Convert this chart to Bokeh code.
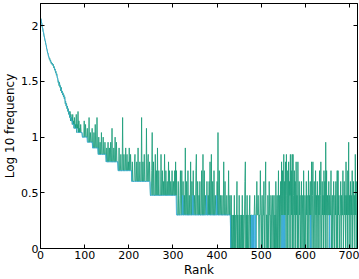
import numpy as np
from bokeh.plotting import figure
from bokeh.models import Range1d, LinearAxis, FixedTicker
from bokeh.embed import file_html
from bokeh.resources import INLINE

# ---- data: counts per rank (plotted as log10) ----
x_ticks = [0, 100, 200, 300, 400, 500, 600, 700]
y_ticks = [0, 0.5, 1, 1.5, 2]
y_tick_labels = {0: "0", 0.5: "0.5", 1: "1", 1.5: "1.5", 2: "2"}

# sorted (reference) counts, shown in blue
blue_counts = [
    116,110,104,98,94,90,86,82,78,75,72,69,66,63,60,58,56,54,52,51,
    50,49,48,47,46,46,45,45,44,43,42,41,40,39,38,37,36,35,33,32,
    31,30,30,29,28,27,27,26,25,25,24,24,23,23,22,21,20,20,19,19,
    18,18,17,17,16,16,15,15,15,14,14,14,13,13,13,13,12,12,12,12,
    12,12,11,11,11,11,11,11,11,11,11,11,11,11,10,10,10,10,10,10,
    10,10,10,10,10,9,9,9,9,9,9,9,9,9,9,9,9,8,8,8,
    8,8,8,8,8,8,8,8,8,8,7,7,7,7,7,7,7,7,7,7,
    7,7,7,7,7,7,7,7,6,6,6,6,6,6,6,6,6,6,6,6,
    6,6,6,6,6,6,6,6,6,6,6,6,6,6,6,5,5,5,5,5,
    5,5,5,5,5,5,5,5,5,5,5,5,5,5,5,5,5,5,5,5,
    5,5,5,5,5,5,4,4,4,4,4,4,4,4,4,4,4,4,4,4,
    4,4,4,4,4,4,4,4,4,4,4,4,4,4,4,4,4,4,4,4,
    4,4,4,4,4,4,4,4,3,3,3,3,3,3,3,3,3,3,3,3,
    3,3,3,3,3,3,3,3,3,3,3,3,3,3,3,3,3,3,3,3,
    3,3,3,3,3,3,3,3,3,3,3,3,3,3,3,3,3,3,3,3,
    3,3,3,3,3,3,3,2,2,2,2,2,2,2,2,2,2,2,2,2,
    2,3,2,2,2,2,2,2,2,2,2,2,2,2,2,2,2,2,2,2,
    2,2,2,2,3,2,2,2,2,2,2,2,2,2,2,2,2,2,2,2,
    2,2,2,2,2,2,2,2,2,2,2,2,2,2,2,3,2,2,2,2,
    2,2,2,2,2,2,2,2,2,2,2,2,2,2,2,2,2,2,3,2,
    2,2,2,2,2,2,2,2,2,2,2,2,2,2,2,2,2,2,2,2,
    2,2,2,2,2,2,2,2,2,2,1,1,1,1,1,1,1,1,1,1,
    1,1,1,1,1,1,1,1,1,1,1,1,1,1,1,1,1,1,1,1,
    1,1,1,1,1,1,1,1,1,1,1,1,1,1,1,1,1,2,1,1,
    2,1,1,2,1,1,2,1,1,1,1,1,1,1,1,1,1,1,1,1,
    1,1,1,1,1,1,1,1,1,1,1,1,1,1,1,1,1,1,1,1,
    1,1,1,1,1,1,1,1,1,1,1,1,1,1,1,1,1,1,1,1,
    1,1,1,1,1,1,2,1,1,2,1,1,2,1,1,1,1,1,1,1,
    1,1,1,1,1,1,1,1,1,1,1,1,1,1,1,1,1,1,1,1,
    1,1,1,1,1,1,1,1,1,1,1,1,1,1,1,1,1,1,1,1,
    1,1,1,1,1,1,1,1,1,1,1,2,1,1,1,1,1,1,1,1,
    1,1,1,1,1,1,1,1,1,1,1,1,1,1,1,1,1,1,1,1,
    1,1,1,1,1,1,1,1,1,1,1,1,1,1,2,1,1,1,1,1,
    1,1,1,1,1,1,1,1,1,1,1,1,1,1,1,1,1,1,1,1,
    1,1,1,1,1,1,1,1,1,1,1,1,1,1,1,1,1,1,1,1,
    1,1,1,1,1,1,1,1,1,1,1,1,1,1,1,1,1,1,
]

# observed counts, shown in green
green_counts = [
    116,108,105,97,95,89,87,81,79,74,
    73,68,67,62,61,57,57,53,53,50,
    51,48,49,46,47,45,46,44,45,42,
    43,40,41,38,39,36,37,34,34,31,
    32,29,31,28,29,26,28,25,26,24,
    25,23,24,22,23,20,21,19,20,18,
    19,17,18,16,17,15,17,14,16,14,
    15,13,16,13,14,12,15,12,13,12,
    16,11,13,12,17,11,14,11,12,11,
    13,11,11,11,10,10,10,10,14,10,
    10,13,10,10,10,12,9,9,9,15,
    9,9,11,9,9,9,12,8,8,8,
    11,8,8,13,8,8,8,15,8,8,
    7,10,7,7,9,7,7,11,7,7,
    7,10,7,7,7,9,7,7,6,8,
    6,6,9,6,6,8,6,6,9,6,
    6,12,6,6,6,8,6,6,10,6,
    6,9,6,6,6,5,5,8,5,5,
    5,7,5,5,5,15,5,5,7,5,
    5,5,8,5,5,7,5,5,6,5,
    8,5,5,7,5,5,4,6,4,4,
    4,4,6,7,4,4,4,6,4,4,
    8,4,4,4,6,4,4,4,15,4,
    4,6,4,4,7,4,4,4,4,12,
    4,4,6,7,4,4,6,4,3,3,
    3,5,11,3,3,6,3,3,3,7,
    3,3,5,3,8,3,3,5,3,3,
    3,3,7,3,3,5,3,3,4,3,
    7,3,3,5,3,3,4,3,3,6,
    3,5,3,3,4,3,3,5,3,3,
    4,3,3,5,3,6,3,5,2,2,
    2,4,2,2,2,3,5,2,2,5,
    2,2,4,2,2,3,2,8,2,2,
    4,2,2,5,2,2,3,2,2,6,
    2,2,4,2,2,5,2,2,3,2,
    2,5,7,2,2,4,2,2,3,2,
    4,2,2,2,5,2,2,7,2,2,
    5,2,2,3,2,2,4,2,2,3,
    2,4,2,6,2,2,7,2,2,4,
    2,2,5,2,2,3,2,2,2,4,
    2,11,2,2,5,2,2,3,2,2,
    3,2,2,2,6,2,2,4,2,2,
    2,3,2,2,2,5,2,2,3,2,
    1,3,1,2,1,1,2,1,3,1,
    2,1,1,2,4,1,2,1,1,3,
    1,2,1,1,2,1,3,1,2,1,
    1,2,4,6,1,2,1,3,1,2,
    1,1,2,3,1,2,1,2,2,1,
    2,1,2,2,3,2,2,1,2,4,
    2,2,3,2,1,2,2,5,2,1,
    2,3,1,2,2,4,1,2,3,6,
    1,2,2,1,3,2,1,4,2,2,
    1,3,2,1,2,3,1,2,3,1,
    2,1,4,2,1,3,1,2,5,1,
    3,1,2,4,1,6,2,5,1,2,
    7,1,4,2,6,1,7,3,1,5,
    2,6,1,4,3,7,1,5,2,7,
    1,7,3,1,5,2,4,1,6,2,
    3,1,6,2,1,4,2,3,1,2,
    4,1,2,3,1,5,2,1,3,2,
    1,4,2,3,1,2,5,1,3,2,
    4,1,2,6,1,3,6,2,1,4,
    2,1,5,2,3,1,4,2,1,3,
    2,5,1,3,6,2,1,4,2,3,
    1,5,2,4,1,9,2,5,1,3,
    2,2,4,1,3,2,2,5,1,2,
    3,1,2,4,2,1,3,2,4,1,
    2,5,1,5,2,3,1,2,2,4,
    1,3,2,2,5,1,2,4,2,3,
    1,6,2,3,1,5,2,9,1,3,
    2,4,1,3,2,5,1,2,4,2,
    3,1,7,2,4,1,2,3,
]

blue_rank = list(range(1, len(blue_counts) + 1))
green_rank = list(range(1, len(green_counts) + 1))
blue_log = np.log10(np.array(blue_counts, dtype=float))
green_log = np.log10(np.array(green_counts, dtype=float))

FONT = "DejaVu Sans"

p = figure(width=359, height=279, x_range=Range1d(0, 718), y_range=Range1d(0, 2.2),
           output_backend="svg", toolbar_location=None,
           min_border_left=36, min_border_right=2, min_border_top=3, min_border_bottom=0)
p.grid.visible = False
p.outline_line_color = "black"
p.outline_line_width = 1
p.background_fill_color = "white"
p.border_fill_color = "white"

p.line(green_rank, green_log, line_color="#1c9e7a", line_width=1, line_alpha=0.85)
p.line(blue_rank, blue_log, line_color="#3eaee8", line_width=1, line_alpha=0.75)

def style(ax, labels=True):
    ax.major_tick_in = 4
    ax.major_tick_out = 0
    ax.minor_tick_in = 0
    ax.minor_tick_out = 0
    ax.axis_line_color = "black"
    ax.major_tick_line_color = "black"
    if labels:
        ax.major_label_text_font = FONT
        ax.major_label_text_font_size = "11px"
        ax.major_label_text_color = "black"
        ax.major_label_standoff = 2
        ax.axis_label_text_font = FONT
        ax.axis_label_text_font_size = "12px"
        ax.axis_label_text_font_style = "normal"
        ax.axis_label_text_color = "black"
        ax.axis_label_standoff = 1
    else:
        ax.major_label_text_font_size = "0px"
        ax.major_label_text_color = None
        ax.major_label_standoff = 0

xa = p.xaxis[0]
xa.ticker = FixedTicker(ticks=x_ticks)
xa.axis_label = "Rank"
style(xa)

ya = p.yaxis[0]
ya.ticker = FixedTicker(ticks=y_ticks)
ya.major_label_overrides = y_tick_labels
ya.axis_label = "Log 10 frequency"
style(ya)

top = LinearAxis(ticker=FixedTicker(ticks=x_ticks))
style(top, labels=False)
p.add_layout(top, "above")
right = LinearAxis(ticker=FixedTicker(ticks=y_ticks))
style(right, labels=False)
p.add_layout(right, "right")

open("out.html", "w").write(file_html(p, INLINE))
